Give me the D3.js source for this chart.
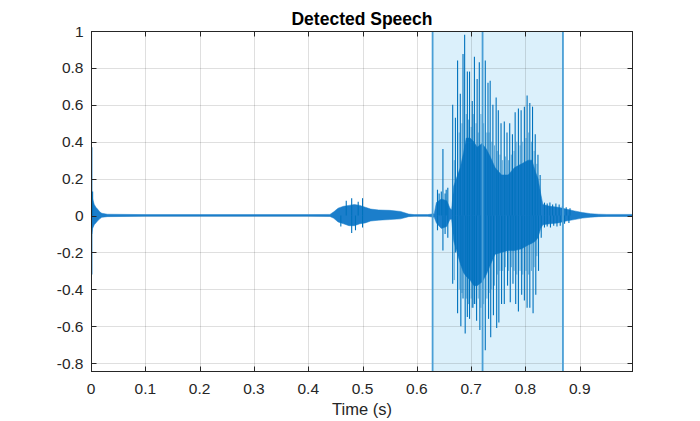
<!DOCTYPE html>
<html>
<head>
<meta charset="utf-8">
<script src="https://cdn.jsdelivr.net/npm/d3@7"></script>
<style>
  html, body { margin: 0; padding: 0; background: #ffffff; }
  svg { display: block; font-family: "Liberation Sans", Arial, Helvetica, sans-serif; }
</style>
</head>
<body>
<svg id="chart" width="700" height="421"></svg>
<script>
// ---------- data ----------
const titleText = "Detected Speech";
const xLabelText = "Time (s)";
const xDomain = [0, 0.998];
const yDomain = [-0.848, 1];
const xTicks = [0, 0.1, 0.2, 0.3, 0.4, 0.5, 0.6, 0.7, 0.8, 0.9];
const xTickLabels = ["0", "0.1", "0.2", "0.3", "0.4", "0.5", "0.6", "0.7", "0.8", "0.9"];
const yTicks = [-0.8, -0.6, -0.4, -0.2, 0, 0.2, 0.4, 0.6, 0.8, 1];
const yTickLabels = ["-0.8", "-0.6", "-0.4", "-0.2", "0", "0.2", "0.4", "0.6", "0.8", "1"];

// detected speech regions (s)
const regionStarts = [0.629, 0.721];
const regionEnds   = [0.721, 0.869];

// dense waveform envelope (s, upper, lower)
const envTime  = [0, 0.0015, 0.003, 0.006, 0.009, 0.012, 0.016, 0.02, 0.03, 0.1, 0.2, 0.3, 0.4, 0.44, 0.447, 0.455, 0.465, 0.475, 0.485, 0.495, 0.505, 0.515, 0.53, 0.55, 0.57, 0.585, 0.595, 0.62, 0.632, 0.636, 0.645, 0.655, 0.661, 0.664, 0.668, 0.675, 0.68, 0.686, 0.691, 0.698, 0.705, 0.711, 0.72, 0.728, 0.735, 0.744, 0.756, 0.768, 0.78, 0.793, 0.805, 0.812, 0.818, 0.823, 0.828, 0.832, 0.845, 0.86, 0.875, 0.89, 0.905, 0.92, 0.935, 0.95, 0.998];
const envUpper = [0.02, 0.11, 0.09, 0.06, 0.045, 0.035, 0.02, 0.012, 0.007, 0.005, 0.005, 0.005, 0.005, 0.006, 0.02, 0.04, 0.05, 0.055, 0.06, 0.055, 0.045, 0.035, 0.03, 0.028, 0.022, 0.008, 0.005, 0.005, 0.01, 0.07, 0.09, 0.08, 0.04, 0.03, 0.16, 0.22, 0.26, 0.34, 0.42, 0.42, 0.40, 0.37, 0.39, 0.36, 0.32, 0.26, 0.22, 0.22, 0.26, 0.28, 0.30, 0.30, 0.24, 0.20, 0.12, 0.06, 0.05, 0.045, 0.035, 0.025, 0.016, 0.01, 0.007, 0.006, 0.006];
const envLower = [-0.02, -0.10, -0.07, -0.05, -0.04, -0.03, -0.018, -0.01, -0.006, -0.004, -0.004, -0.004, -0.004, -0.005, -0.015, -0.035, -0.045, -0.055, -0.055, -0.045, -0.04, -0.03, -0.025, -0.022, -0.018, -0.006, -0.004, -0.004, -0.01, -0.04, -0.07, -0.06, -0.02, -0.02, -0.14, -0.21, -0.26, -0.31, -0.33, -0.35, -0.38, -0.38, -0.36, -0.32, -0.27, -0.21, -0.20, -0.19, -0.19, -0.18, -0.16, -0.15, -0.14, -0.12, -0.07, -0.05, -0.045, -0.04, -0.03, -0.022, -0.014, -0.009, -0.006, -0.005, -0.005];

// main positive peaks (pitch pulses)
const peakTimes  = [0.0015, 0.003, 0.47, 0.48, 0.492, 0.50, 0.638, 0.641, 0.645, 0.648, 0.652, 0.654, 0.657, 0.666, 0.671, 0.675, 0.680, 0.685, 0.688, 0.693, 0.697, 0.702, 0.706, 0.711, 0.715, 0.726, 0.731, 0.735, 0.740, 0.746, 0.750, 0.755, 0.761, 0.766, 0.771, 0.776, 0.781, 0.787, 0.792, 0.798, 0.803, 0.808, 0.813, 0.818, 0.823, 0.827, 0.835, 0.840, 0.845, 0.850, 0.856, 0.862, 0.868, 0.875, 0.882];
const peakValues = [0.37, 0.13, 0.08, 0.094, 0.075, 0.094, 0.14, 0.12, 0.13, 0.36, 0.12, 0.14, 0.15, 0.60, 0.53, 0.84, 0.66, 0.875, 0.98, 0.78, 0.78, 0.62, 0.86, 0.74, 0.83, 0.84, 0.72, 0.73, 0.60, 0.64, 0.57, 0.50, 0.51, 0.45, 0.50, 0.44, 0.56, 0.58, 0.57, 0.59, 0.65, 0.61, 0.59, 0.44, 0.33, 0.22, 0.07, 0.065, 0.07, 0.06, 0.065, 0.06, 0.05, 0.045, 0.04];

// main negative troughs
const troughTimes  = [0.0015, 0.46, 0.48, 0.487, 0.50, 0.638, 0.648, 0.652, 0.657, 0.666, 0.671, 0.675, 0.681, 0.685, 0.689, 0.693, 0.697, 0.702, 0.706, 0.710, 0.716, 0.726, 0.732, 0.736, 0.741, 0.747, 0.751, 0.756, 0.761, 0.767, 0.772, 0.777, 0.782, 0.787, 0.793, 0.798, 0.803, 0.808, 0.814, 0.819, 0.824, 0.829, 0.835, 0.840, 0.846, 0.852, 0.858, 0.864, 0.872, 0.880];
const troughValues = [-0.32, -0.06, -0.095, -0.08, -0.065, -0.08, -0.19, -0.10, -0.12, -0.37, -0.20, -0.53, -0.60, -0.45, -0.64, -0.55, -0.56, -0.50, -0.48, -0.57, -0.62, -0.73, -0.56, -0.66, -0.54, -0.61, -0.58, -0.48, -0.48, -0.38, -0.47, -0.37, -0.48, -0.52, -0.43, -0.46, -0.50, -0.50, -0.53, -0.43, -0.30, -0.12, -0.065, -0.06, -0.065, -0.055, -0.06, -0.055, -0.045, -0.04];

// secondary (fainter) peaks and troughs between the pitch pulses
const minorPeakTimes  = [0.669, 0.678, 0.683, 0.691, 0.695, 0.700, 0.704, 0.709, 0.713, 0.718, 0.723, 0.729, 0.733, 0.738, 0.743, 0.748, 0.753, 0.758, 0.763, 0.769, 0.774, 0.779, 0.784, 0.790, 0.795, 0.801, 0.806, 0.811, 0.816, 0.821];
const minorPeakValues = [0.30, 0.45, 0.50, 0.55, 0.52, 0.48, 0.55, 0.50, 0.45, 0.55, 0.50, 0.45, 0.45, 0.40, 0.38, 0.35, 0.33, 0.30, 0.32, 0.30, 0.33, 0.35, 0.40, 0.38, 0.40, 0.42, 0.45, 0.40, 0.35, 0.28];
const minorTroughTimes  = [0.669, 0.678, 0.683, 0.691, 0.695, 0.700, 0.704, 0.709, 0.713, 0.718, 0.723, 0.729, 0.733, 0.738, 0.743, 0.748, 0.753, 0.758, 0.763, 0.769, 0.774, 0.779, 0.784, 0.790, 0.795, 0.801, 0.806, 0.811, 0.816, 0.821];
const minorTroughValues = [-0.35, -0.40, -0.42, -0.45, -0.48, -0.45, -0.50, -0.48, -0.45, -0.50, -0.48, -0.45, -0.42, -0.40, -0.38, -0.32, -0.30, -0.30, -0.28, -0.30, -0.28, -0.30, -0.32, -0.30, -0.32, -0.30, -0.32, -0.30, -0.28, -0.22];

// ---------- drawing ----------
const svg = d3.select("#chart");
const margin = { left: 91, top: 31, right: 633, bottom: 372 };
const x = d3.scaleLinear().domain(xDomain).range([margin.left, margin.right]);
const y = d3.scaleLinear().domain(yDomain).range([margin.bottom, margin.top]);

const axisColor = "#262626";
const signalColor = "#0072BD";

svg.append("defs").append("clipPath").attr("id", "plotclip")
  .append("rect")
  .attr("x", margin.left).attr("y", margin.top)
  .attr("width", margin.right - margin.left)
  .attr("height", margin.bottom - margin.top);

// background
svg.append("rect")
  .attr("x", margin.left).attr("y", margin.top)
  .attr("width", margin.right - margin.left)
  .attr("height", margin.bottom - margin.top)
  .attr("fill", "#ffffff");

// region fills
const regions = regionStarts.map((s, i) => ({ s, e: regionEnds[i] }));
svg.append("g").selectAll("rect").data(regions).join("rect")
  .attr("x", d => x(d.s)).attr("y", margin.top)
  .attr("width", d => x(d.e) - x(d.s))
  .attr("height", margin.bottom - margin.top)
  .attr("fill", "#dbf0fb");

// grid
const grid = svg.append("g").attr("stroke", "rgba(38,38,38,0.15)").attr("stroke-width", 1);
grid.selectAll("line.gx").data(xTicks.filter(t => t > xDomain[0])).join("line")
  .attr("x1", d => Math.round(x(d)) + 0.5).attr("x2", d => Math.round(x(d)) + 0.5)
  .attr("y1", margin.top).attr("y2", margin.bottom);
grid.selectAll("line.gy").data(yTicks.filter(t => t < yDomain[1])).join("line")
  .attr("y1", d => Math.round(y(d)) + 0.5).attr("y2", d => Math.round(y(d)) + 0.5)
  .attr("x1", margin.left).attr("x2", margin.right);

// signal
const plot = svg.append("g").attr("clip-path", "url(#plotclip)");
const envData = envTime.map((t, i) => ({ t, u: envUpper[i], l: envLower[i] }));
const area = d3.area().x(d => x(d.t)).y0(d => y(d.l)).y1(d => y(d.u));
plot.append("path").datum(envData)
  .attr("d", area)
  .attr("fill", "#1b7ecb")
  .attr("stroke", "#1b7ecb").attr("stroke-width", 0.5);

const minors = minorPeakTimes.map((t, i) => ({ t, v: minorPeakValues[i] }))
  .concat(minorTroughTimes.map((t, i) => ({ t, v: minorTroughValues[i] })));
plot.append("g").selectAll("line").data(minors).join("line")
  .attr("x1", d => x(d.t)).attr("x2", d => x(d.t))
  .attr("y1", y(0)).attr("y2", d => y(d.v))
  .attr("stroke", signalColor).attr("stroke-width", 1).attr("stroke-opacity", 0.55);

const peaks = peakTimes.map((t, i) => ({ t, v: peakValues[i] }));
const troughs = troughTimes.map((t, i) => ({ t, v: troughValues[i] }));
plot.append("g").selectAll("line").data(peaks.concat(troughs)).join("line")
  .attr("x1", d => x(d.t)).attr("x2", d => x(d.t))
  .attr("y1", y(0)).attr("y2", d => y(d.v))
  .attr("stroke", signalColor).attr("stroke-width", 1.1);

// region edges
const edgeTimes = Array.from(new Set(regionStarts.concat(regionEnds)));
svg.append("g").selectAll("line").data(edgeTimes).join("line")
  .attr("x1", d => x(d)).attr("x2", d => x(d))
  .attr("y1", margin.top).attr("y2", margin.bottom)
  .attr("stroke", "#4a9fd6").attr("stroke-width", 1.8);

// axes box and ticks
const tickLen = 5.5;
const ax = svg.append("g").attr("stroke", axisColor).attr("stroke-width", 1).attr("fill", "none");
ax.append("rect")
  .attr("x", margin.left + 0.5).attr("y", margin.top + 0.5)
  .attr("width", margin.right - margin.left - 1)
  .attr("height", margin.bottom - margin.top - 1);
xTicks.forEach(t => {
  const px = Math.round(x(t)) + 0.5;
  ax.append("line").attr("x1", px).attr("x2", px).attr("y1", margin.bottom).attr("y2", margin.bottom - tickLen);
  ax.append("line").attr("x1", px).attr("x2", px).attr("y1", margin.top).attr("y2", margin.top + tickLen);
});
yTicks.forEach(t => {
  const py = Math.round(y(t)) + 0.5;
  ax.append("line").attr("y1", py).attr("y2", py).attr("x1", margin.left).attr("x2", margin.left + tickLen);
  ax.append("line").attr("y1", py).attr("y2", py).attr("x1", margin.right).attr("x2", margin.right - tickLen);
});

// tick labels
svg.append("g").selectAll("text").data(xTicks).join("text")
  .attr("x", d => x(d)).attr("y", 393.5)
  .attr("text-anchor", "middle")
  .attr("font-size", 15.5).attr("fill", axisColor)
  .text((d, i) => xTickLabels[i]);
svg.append("g").selectAll("text").data(yTicks).join("text")
  .attr("x", 83.5).attr("y", d => y(d))
  .attr("dy", "0.36em")
  .attr("text-anchor", "end")
  .attr("font-size", 15.5).attr("fill", axisColor)
  .text((d, i) => yTickLabels[i]);

// labels
svg.append("text")
  .attr("x", (margin.left + margin.right) / 2).attr("y", 415)
  .attr("text-anchor", "middle").attr("font-size", 16.5).attr("fill", axisColor)
  .text(xLabelText);
svg.append("text")
  .attr("x", (margin.left + margin.right) / 2).attr("y", 25)
  .attr("text-anchor", "middle").attr("font-size", 17.5).attr("font-weight", "bold").attr("fill", "#000000")
  .text(titleText);
</script>
</body>
</html>
